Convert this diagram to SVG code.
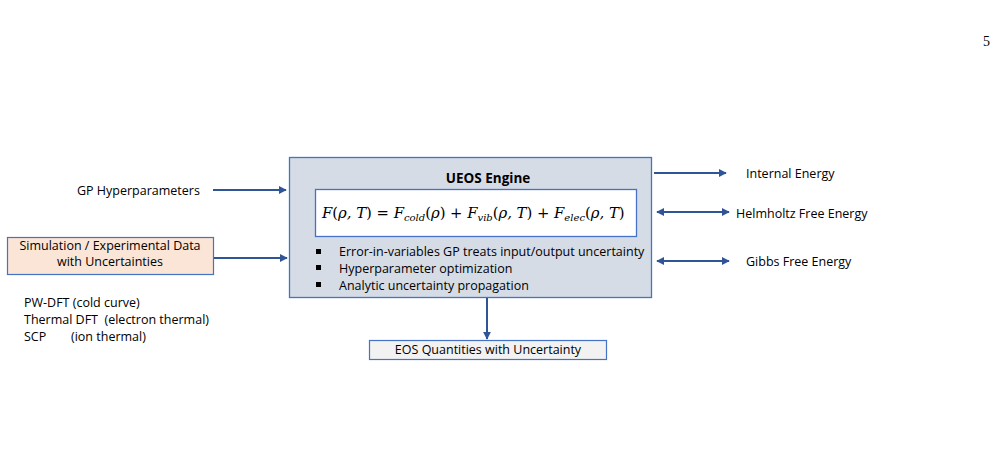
<svg xmlns="http://www.w3.org/2000/svg" width="1001" height="470" viewBox="0 0 1001 470">
<style>
.t{font-family:"Open Sans","Liberation Sans",sans-serif;font-size:12.5px;fill:#000}
.m{font-family:"DejaVu Serif","Liberation Serif",serif;font-size:14.8px;fill:#000}
.i{font-style:italic}
.ar{stroke:#2f5597;stroke-width:2;fill:none}
</style>
<defs>
<marker id="ah" viewBox="0 0 10 10" refX="9" refY="5" markerWidth="4" markerHeight="4" orient="auto-start-reverse" markerUnits="strokeWidth">
<path d="M0,0 L10,5 L0,10 z" fill="#2f5597"/>
</marker>
</defs>
<rect width="1001" height="470" fill="#fff"/>
<text x="983" y="46" style="font-family:'Liberation Serif',serif;font-size:14px">5</text>

<g id="engine">
<rect x="289.5" y="157.5" width="362" height="140" fill="#d6dce5" stroke="#4472c4" stroke-width="1.3"/>
<text x="488" y="183" class="t" text-anchor="middle" style="font-weight:bold;font-size:13.5px">UEOS Engine</text>
<rect x="315.5" y="189.5" width="321" height="47" fill="#fff" stroke="#4472c4" stroke-width="1.3"/>
<text x="322" y="218" class="m"><tspan class="i">F</tspan>(<tspan class="i">ρ, T</tspan>) = <tspan class="i">F<tspan font-size="10" dy="3">cold</tspan></tspan><tspan dy="-3">(</tspan><tspan class="i">ρ</tspan>) + <tspan class="i">F<tspan font-size="10" dy="3">vib</tspan></tspan><tspan dy="-3">(</tspan><tspan class="i">ρ, T</tspan>) + <tspan class="i">F<tspan font-size="10" dy="3">elec</tspan></tspan><tspan dy="-3">(</tspan><tspan class="i">ρ, T</tspan>)</text>
<rect x="316" y="249" width="5" height="5" fill="#000"/>
<rect x="316" y="265" width="5" height="5" fill="#000"/>
<rect x="316" y="282" width="5" height="5" fill="#000"/>
<text x="339" y="256" class="t">Error-in-variables GP treats input/output uncertainty</text>
<text x="339" y="273" class="t">Hyperparameter optimization</text>
<text x="339" y="290" class="t">Analytic uncertainty propagation</text>
</g>

<g id="gp">
<text x="77" y="195" class="t">GP Hyperparameters</text>
</g>

<g id="simdata">
<rect x="7.5" y="237.5" width="206" height="37" fill="#fbe5d6" stroke="#4472c4" stroke-width="1.2"/>
<text x="110" y="250" class="t" text-anchor="middle">Simulation / Experimental Data</text>
<text x="110" y="266" class="t" text-anchor="middle">with Uncertainties</text>
</g>

<g id="sources">
<text x="24" y="307" class="t">PW-DFT (cold curve)</text>
<text x="24" y="324" class="t" xml:space="preserve">Thermal DFT  (electron thermal)</text>
<text x="24" y="341" class="t">SCP</text>
<text x="71" y="341" class="t">(ion thermal)</text>
</g>

<g id="outputs">
<text x="746" y="178" class="t">Internal Energy</text>
<text x="736" y="218" class="t">Helmholtz Free Energy</text>
<text x="746" y="266" class="t">Gibbs Free Energy</text>
</g>

<g id="eos">
<rect x="369.5" y="340.5" width="237" height="19" fill="#f2f2f2" stroke="#4472c4" stroke-width="1.2"/>
<text x="488" y="354" class="t" text-anchor="middle">EOS Quantities with Uncertainty</text>
</g>

<g id="connectors">
<line x1="213" y1="190" x2="286" y2="190" class="ar" marker-end="url(#ah)"/>
<line x1="214" y1="258" x2="287" y2="258" class="ar" marker-end="url(#ah)"/>
<line x1="654" y1="173" x2="726" y2="173" class="ar" marker-end="url(#ah)"/>
<line x1="657" y1="212" x2="729" y2="212" class="ar" marker-start="url(#ah)" marker-end="url(#ah)"/>
<line x1="657" y1="261" x2="729" y2="261" class="ar" marker-start="url(#ah)" marker-end="url(#ah)"/>
<line x1="487" y1="298" x2="487" y2="339" class="ar" marker-end="url(#ah)"/>
</g>
</svg>
